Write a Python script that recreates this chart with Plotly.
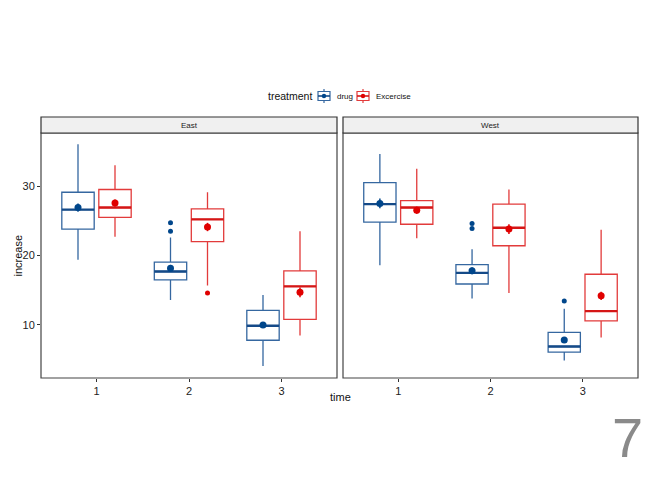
import plotly.graph_objects as go

times = [1, 2, 3]
panels = ["East", "West"]
treatments = ["drug", "Excercise"]

# box statistics per panel / treatment, for times 1,2,3
stats = {
    ("East", "drug"): dict(lo=[19.4, 13.6, 4.1], q1=[23.8, 16.5, 7.8], med=[26.6, 17.7, 9.9],
                           q3=[29.1, 19.05, 12.1], hi=[36.0, 22.6, 14.3],
                           mean=[26.9, 18.15, 10.0], se=[0.6, 0.5, 0.4]),
    ("East", "Excercise"): dict(lo=[22.7, 15.7, 8.5], q1=[25.5, 22.0, 10.8], med=[26.9, 25.2, 15.55],
                                q3=[29.5, 26.7, 17.8], hi=[33.0, 29.1, 23.5],
                                mean=[27.55, 24.1, 14.7], se=[0.5, 0.6, 0.7]),
    ("West", "drug"): dict(lo=[18.6, 13.8, 4.9], q1=[24.8, 15.9, 6.1], med=[27.4, 17.5, 6.9],
                           q3=[30.5, 18.7, 8.95], hi=[34.6, 20.9, 12.35],
                           mean=[27.5, 17.8, 7.85], se=[0.7, 0.5, 0.4]),
    ("West", "Excercise"): dict(lo=[22.5, 14.6, 8.2], q1=[24.5, 21.4, 10.6], med=[26.9, 24.0, 12.0],
                                q3=[27.9, 27.4, 17.3], hi=[32.5, 29.5, 23.7],
                                mean=[26.5, 23.8, 14.2], se=[0.5, 0.7, 0.6]),
}
outliers = {
    ("East", "drug"): ([2, 2], [24.7, 23.5]),
    ("East", "Excercise"): ([2], [14.6]),
    ("West", "drug"): ([2, 2, 3], [24.6, 23.9, 13.45]),
    ("West", "Excercise"): ([], []),
}

box_col = {"drug": "#3567A0", "Excercise": "#E23B3B"}
med_col = {"drug": "#154A88", "Excercise": "#D51616"}
pt_col = {"drug": "#00468B", "Excercise": "#E00000"}
offset = {"drug": -0.2, "Excercise": 0.2}
bw = 0.35

fig = go.Figure()
for pi, panel in enumerate(panels):
    xa = "x" if pi == 0 else "x2"
    ya = "y" if pi == 0 else "y2"
    for tr in treatments:
        s = stats[(panel, tr)]
        xs = [t + offset[tr] for t in times]
        fig.add_trace(go.Box(
            x=xs, q1=s["q1"], median=s["med"], q3=s["q3"],
            lowerfence=s["lo"], upperfence=s["hi"],
            width=bw, boxpoints=False, whiskerwidth=0,
            line=dict(color=box_col[tr], width=1.3), fillcolor="rgba(255,255,255,0)",
            name=tr, showlegend=False,
            xaxis=xa, yaxis=ya, hoverinfo="skip"))
        mx, my = [], []
        for x, m in zip(xs, s["med"]):
            mx += [x - bw / 2, x + bw / 2, None]
            my += [m, m, None]
        fig.add_trace(go.Scatter(x=mx, y=my, mode="lines",
                                 line=dict(color=med_col[tr], width=2.4),
                                 showlegend=False, xaxis=xa, yaxis=ya, hoverinfo="skip"))
        fig.add_trace(go.Scatter(x=xs, y=s["mean"], mode="markers",
                                 marker=dict(color=pt_col[tr], size=7),
                                 error_y=dict(type="data", array=s["se"], color=pt_col[tr],
                                              thickness=1.5, width=0),
                                 showlegend=False, xaxis=xa, yaxis=ya, hoverinfo="skip"))
        ox, oy = outliers[(panel, tr)]
        if ox:
            fig.add_trace(go.Scatter(x=[t + offset[tr] for t in ox], y=oy, mode="markers",
                                     marker=dict(color=pt_col[tr], size=5),
                                     showlegend=False, xaxis=xa, yaxis=ya, hoverinfo="skip"))

W = 597.0   # plot width in px (652 - 41 - 14)
H = 261.0   # plot height in px (488 - 117 - 110)
d1 = [0, 296 / W]
d2 = [302 / W, 1]
ydom = [0, 245 / H]
tf = dict(size=11, color="#222", family="Liberation Sans")
xcommon = dict(range=[0.4, 3.6], tickvals=times, ticktext=[str(t) for t in times],
               ticks="outside", ticklen=3, tickcolor="#333", showgrid=False, zeroline=False,
               tickfont=tf, automargin=False, showline=False)
fig.update_layout(
    template="none",
    width=652, height=488,
    margin=dict(l=41, r=14, t=117, b=110, autoexpand=False),
    paper_bgcolor="white", plot_bgcolor="white",
    xaxis=dict(domain=d1, anchor="y", **xcommon),
    xaxis2=dict(domain=d2, anchor="y2", **xcommon),
    yaxis=dict(domain=ydom, range=[2.37, 37.63], tickvals=[10, 20, 30], ticks="outside",
               ticklen=3, tickcolor="#333", showgrid=False, zeroline=False, automargin=False,
               tickfont=tf, showline=False),
    yaxis2=dict(domain=ydom, range=[2.37, 37.63], anchor="x2", matches="y", automargin=False,
                showticklabels=False, ticks="", showgrid=False, zeroline=False, showline=False),
    showlegend=False,
    font=dict(family="Liberation Sans"),
)


def px_x(p):
    return (p - 41) / W


def px_y(p):
    return (378 - p) / H


shapes = []
for xa, ya in [("x", "y"), ("x2", "y2")]:
    shapes.append(dict(type="rect", xref=xa + " domain", yref=ya + " domain", x0=0, x1=1, y0=0, y1=1,
                       line=dict(color="#444", width=1.2), fillcolor="rgba(0,0,0,0)"))
    shapes.append(dict(type="rect", xref=xa + " domain", yref="paper", x0=0, x1=1, y0=ydom[1], y1=1,
                       line=dict(color="#333", width=1.2), fillcolor="#F0F0F0"))

anns = []
# manual legend
leg_items = [("drug", 318, 335), ("Excercise", 357, 374)]
for tr, ix, tx in leg_items:
    shapes.append(dict(type="line", xref="paper", yref="paper", x0=px_x(ix + 6), x1=px_x(ix + 6),
                       y0=px_y(89), y1=px_y(103), line=dict(color=box_col[tr], width=1.2)))
    shapes.append(dict(type="rect", xref="paper", yref="paper", x0=px_x(ix), x1=px_x(ix + 12),
                       y0=px_y(91.5), y1=px_y(100.5), line=dict(color=box_col[tr], width=1.2),
                       fillcolor="white"))
    shapes.append(dict(type="line", xref="paper", yref="paper", x0=px_x(ix), x1=px_x(ix + 12),
                       y0=px_y(96), y1=px_y(96), line=dict(color=med_col[tr], width=1.6)))
    shapes.append(dict(type="circle", xref="paper", yref="paper", x0=px_x(ix + 3.8), x1=px_x(ix + 8.2),
                       y0=px_y(98.2), y1=px_y(93.8), line=dict(color=pt_col[tr], width=0),
                       fillcolor=pt_col[tr]))
    anns.append(dict(text=tr, x=px_x(tx), y=px_y(96), xref="paper", yref="paper", xanchor="left",
                     yanchor="middle", showarrow=False, font=dict(size=8, color="#111")))
anns.append(dict(text="treatment", x=px_x(314), y=px_y(96), xref="paper", yref="paper", xanchor="right",
                 yanchor="middle", showarrow=False, font=dict(size=10.5, color="#111")))

for panel, d in zip(panels, [d1, d2]):
    anns.append(dict(text=panel, x=(d[0] + d[1]) / 2, y=(ydom[1] + 1) / 2, xref="paper", yref="paper",
                     xanchor="center", yanchor="middle", showarrow=False, font=dict(size=8, color="#222")))
anns.append(dict(text="time", x=px_x(340), xref="paper", y=px_y(397), yref="paper", yanchor="middle",
                 xanchor="center", showarrow=False, font=dict(size=11, color="#111")))
anns.append(dict(text="increase", x=px_x(17), xref="paper", xanchor="center", y=ydom[1] / 2, yref="paper",
                 yanchor="middle", textangle=-90, showarrow=False, font=dict(size=11, color="#111")))
anns.append(dict(text="7", x=px_x(627), y=px_y(437), xref="paper", yref="paper", showarrow=False,
                 xanchor="center", yanchor="middle", font=dict(size=56, color="#8a8a8a")))
fig.update_layout(shapes=shapes, annotations=anns)
fig.write_html("out.html", config={"displayModeBar": False},
               post_script="document.body.style.margin='0';document.body.style.overflow='hidden';")
